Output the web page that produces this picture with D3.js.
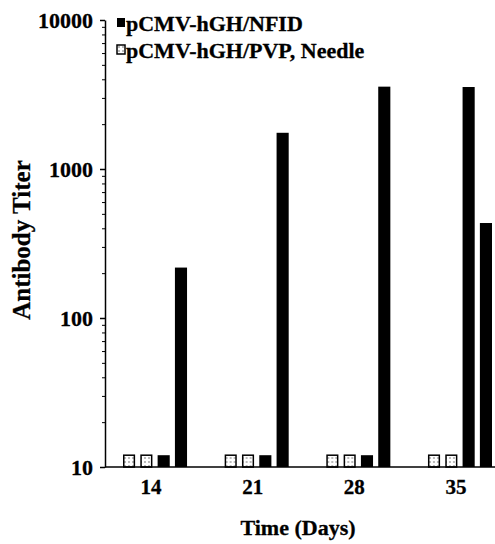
<!DOCTYPE html>
<html>
<head>
<meta charset="utf-8">
<script src="https://cdnjs.cloudflare.com/ajax/libs/d3/7.8.5/d3.min.js"></script>
<style>
  body { margin: 0; background: #fff; }
  text { font-family: "Liberation Serif", "Times New Roman", serif; font-weight: bold; fill: #000; stroke: #000; stroke-width: 0.3px; }
</style>
</head>
<body>
<div class="chart"></div>
<script>
// values (titer, log scale)
var days = ["14", "21", "28", "35"];
var needleA = [12, 12, 12, 12];
var needleB = [12, 12, 12, 12];
var nfidA = [12, 12, 12, 3550];
var nfidB = [218, 1750, 3570, 434];
var yTicks = [10, 100, 1000, 10000];
var legendLabels = ["pCMV-hGH/NFID", "pCMV-hGH/PVP, Needle"];

var width = 495,
    height = 544;
var margin = {top: 20, left: 105, bottom: 77};

var svg = d3.select(".chart").append("svg")
  .attr("width", width)
  .attr("height", height);

// dotted fill for the needle bars
var pat = svg.append("defs").append("pattern")
  .attr("id", "dots")
  .attr("width", 4)
  .attr("height", 4)
  .attr("patternUnits", "userSpaceOnUse");
pat.append("rect").attr("width", 4).attr("height", 4).attr("fill", "#fff");
pat.append("circle").attr("cx", 2).attr("cy", 2).attr("r", 0.7).attr("fill", "#444");

var y = d3.scaleLog().domain([10, 10000]).range([height - margin.bottom, margin.top]);
var x0 = d3.scaleBand().domain(days).range([123, 492]).paddingInner(0.37);
var x1 = d3.scaleBand().domain([0, 1, 2, 3]).range([0, x0.bandwidth()]).paddingInner(0.3);

var rows = days.map(function(d, i) {
  return {day: d, values: [needleA[i], needleB[i], nfidA[i], nfidB[i]]};
});

// bars
var group = svg.append("g").selectAll("g")
  .data(rows)
  .enter().append("g")
  .attr("transform", function(d) { return "translate(" + x0(d.day) + ",0)"; });

group.selectAll("rect")
  .data(function(d) { return d.values; })
  .enter().append("rect")
  .attr("x", function(d, j) { return x1(j) + (j < 2 ? 0.75 : 0); })
  .attr("y", function(d) { return y(d); })
  .attr("width", function(d, j) { return j < 2 ? x1.bandwidth() - 1.5 : x1.bandwidth(); })
  .attr("height", function(d) { return y(10) - y(d); })
  .attr("fill", function(d, j) { return j < 2 ? "url(#dots)" : "#000"; })
  .attr("stroke", function(d, j) { return j < 2 ? "#000" : "none"; })
  .attr("stroke-width", 1.5);

// y axis, major and minor ticks
var minor = [];
[10, 100, 1000].forEach(function(p) {
  for (var k = 2; k < 10; k++) minor.push(p * k);
});

svg.append("g")
  .attr("transform", "translate(" + margin.left + ",0)")
  .call(d3.axisLeft(y).tickValues(minor).tickSize(3).tickFormat(""))
  .call(function(g) { g.select(".domain").remove(); });

var yAxis = svg.append("g")
  .attr("transform", "translate(" + margin.left + ",0)")
  .call(d3.axisLeft(y).tickValues(yTicks).tickFormat(d3.format("d")).tickSize(5).tickPadding(7).tickSizeOuter(0));
yAxis.select(".domain").attr("stroke-width", 1.5);
yAxis.selectAll(".tick line").attr("stroke-width", 1.5);
yAxis.selectAll("text").style("font-size", "22px").attr("font-family", null);

// x axis
svg.append("line")
  .attr("x1", margin.left)
  .attr("x2", width)
  .attr("y1", y(10))
  .attr("y2", y(10))
  .attr("stroke", "#000")
  .attr("stroke-width", 1.5);

var xAxis = svg.append("g")
  .attr("transform", "translate(-4," + y(10) + ")")
  .call(d3.axisBottom(x0).tickSize(0).tickPadding(12));
xAxis.select(".domain").remove();
xAxis.selectAll("text").style("font-size", "21px").attr("font-family", null);

// axis titles
svg.append("text")
  .attr("transform", "rotate(-90)")
  .attr("x", -240)
  .attr("y", 30)
  .attr("text-anchor", "middle")
  .style("font-size", "25px")
  .text("Antibody Titer");

svg.append("text")
  .attr("x", 298)
  .attr("y", 535)
  .attr("text-anchor", "middle")
  .style("font-size", "22px")
  .text("Time (Days)");

// legend
var legend = svg.append("g").selectAll("g")
  .data(legendLabels)
  .enter().append("g")
  .attr("transform", function(d, i) { return "translate(117," + (18 + i * 27) + ")"; });

legend.append("rect")
  .attr("width", 8)
  .attr("height", 9)
  .attr("fill", function(d, i) { return i == 0 ? "#000" : "url(#dots)"; })
  .attr("stroke", "#000")
  .attr("stroke-width", function(d, i) { return i == 0 ? 0 : 1.5; });

legend.append("text")
  .attr("x", 9)
  .attr("y", 13)
  .style("font-size", "22px")
  .text(function(d) { return d; });
</script>
</body>
</html>
